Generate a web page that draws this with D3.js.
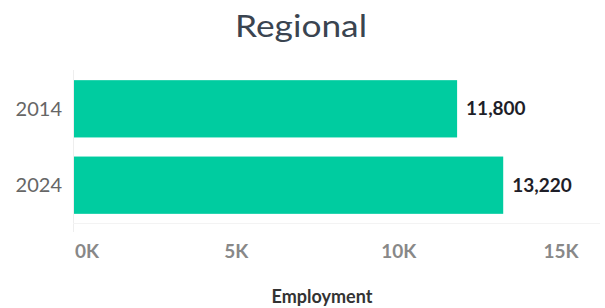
<!DOCTYPE html>
<html>
<head>
<meta charset="utf-8">
<script src="https://cdn.jsdelivr.net/npm/d3@7"></script>
<style>
  body { margin: 0; background: #fff; }
  text { font-family: Lato, "Open Sans", sans-serif; }
</style>
</head>
<body>
<div id="chart"></div>
<script>
const years = ["2014", "2024"];
const employment = [11800, 13220];
const ticks = [0, 5000, 10000, 15000];
const tickLabels = ["0K", "5K", "10K", "15K"];

const width = 605, height = 308;
const svg = d3.select("#chart").append("svg")
    .attr("width", width)
    .attr("height", height);

let x = d3.scaleLinear().domain([0, 15000]).range([74, 561]);
let y = d3.scaleBand().domain(years).range([71, 223]).paddingInner(0.25).paddingOuter(0.12);

// title
svg.append("text")
    .attr("x", 301).attr("y", 37)
    .attr("text-anchor", "middle")
    .attr("font-size", 31)
    .attr("fill", "#3a4450")
    .attr("textLength", 132)
    .attr("lengthAdjust", "spacingAndGlyphs")
    .text("Regional");

// faint axis lines
svg.append("line")
    .attr("x1", 73.5).attr("x2", 73.5)
    .attr("y1", 70).attr("y2", 232)
    .attr("stroke", "#eee");
svg.append("line")
    .attr("x1", 73).attr("x2", 600)
    .attr("y1", 223.5).attr("y2", 223.5)
    .attr("stroke", "#f3f3f3");

// bars
svg.selectAll(".bar").data(employment).enter().append("rect")
    .attr("class", "bar")
    .attr("x", x(0))
    .attr("y", (d, i) => y(years[i]))
    .attr("width", d => x(d) - x(0))
    .attr("height", y.bandwidth())
    .attr("fill", "#00cca0");

// value labels
svg.selectAll(".val").data(employment).enter().append("text")
    .attr("class", "val")
    .attr("x", d => x(d) + 9)
    .attr("y", (d, i) => y(years[i]) + y.bandwidth() / 2)
    .attr("dy", "0.35em")
    .attr("font-size", 19)
    .attr("font-weight", "bold")
    .attr("fill", "#1e1e28")
    .text(d => d3.format(",")(d));

// year labels
svg.selectAll(".yr").data(years).enter().append("text")
    .attr("class", "yr")
    .attr("x", 62)
    .attr("y", d => y(d) + y.bandwidth() / 2)
    .attr("dy", "0.35em")
    .attr("text-anchor", "end")
    .attr("font-size", 20)
    .attr("fill", "#666")
    .text(d => d);

// x tick labels
svg.selectAll(".tick").data(ticks).enter().append("text")
    .attr("class", "tick")
    .attr("x", (d, i) => i == 0 ? x(d) + 1 : x(d))
    .attr("y", 258)
    .attr("text-anchor", (d, i) => i == 0 ? "start" : "middle")
    .attr("font-size", 19)
    .attr("font-weight", "bold")
    .attr("fill", "#888")
    .text((d, i) => tickLabels[i]);

// axis title
svg.append("text")
    .attr("x", 322).attr("y", 303)
    .attr("text-anchor", "middle")
    .attr("font-size", 18)
    .attr("font-weight", "bold")
    .attr("fill", "#333")
    .text("Employment");
</script>
</body>
</html>
